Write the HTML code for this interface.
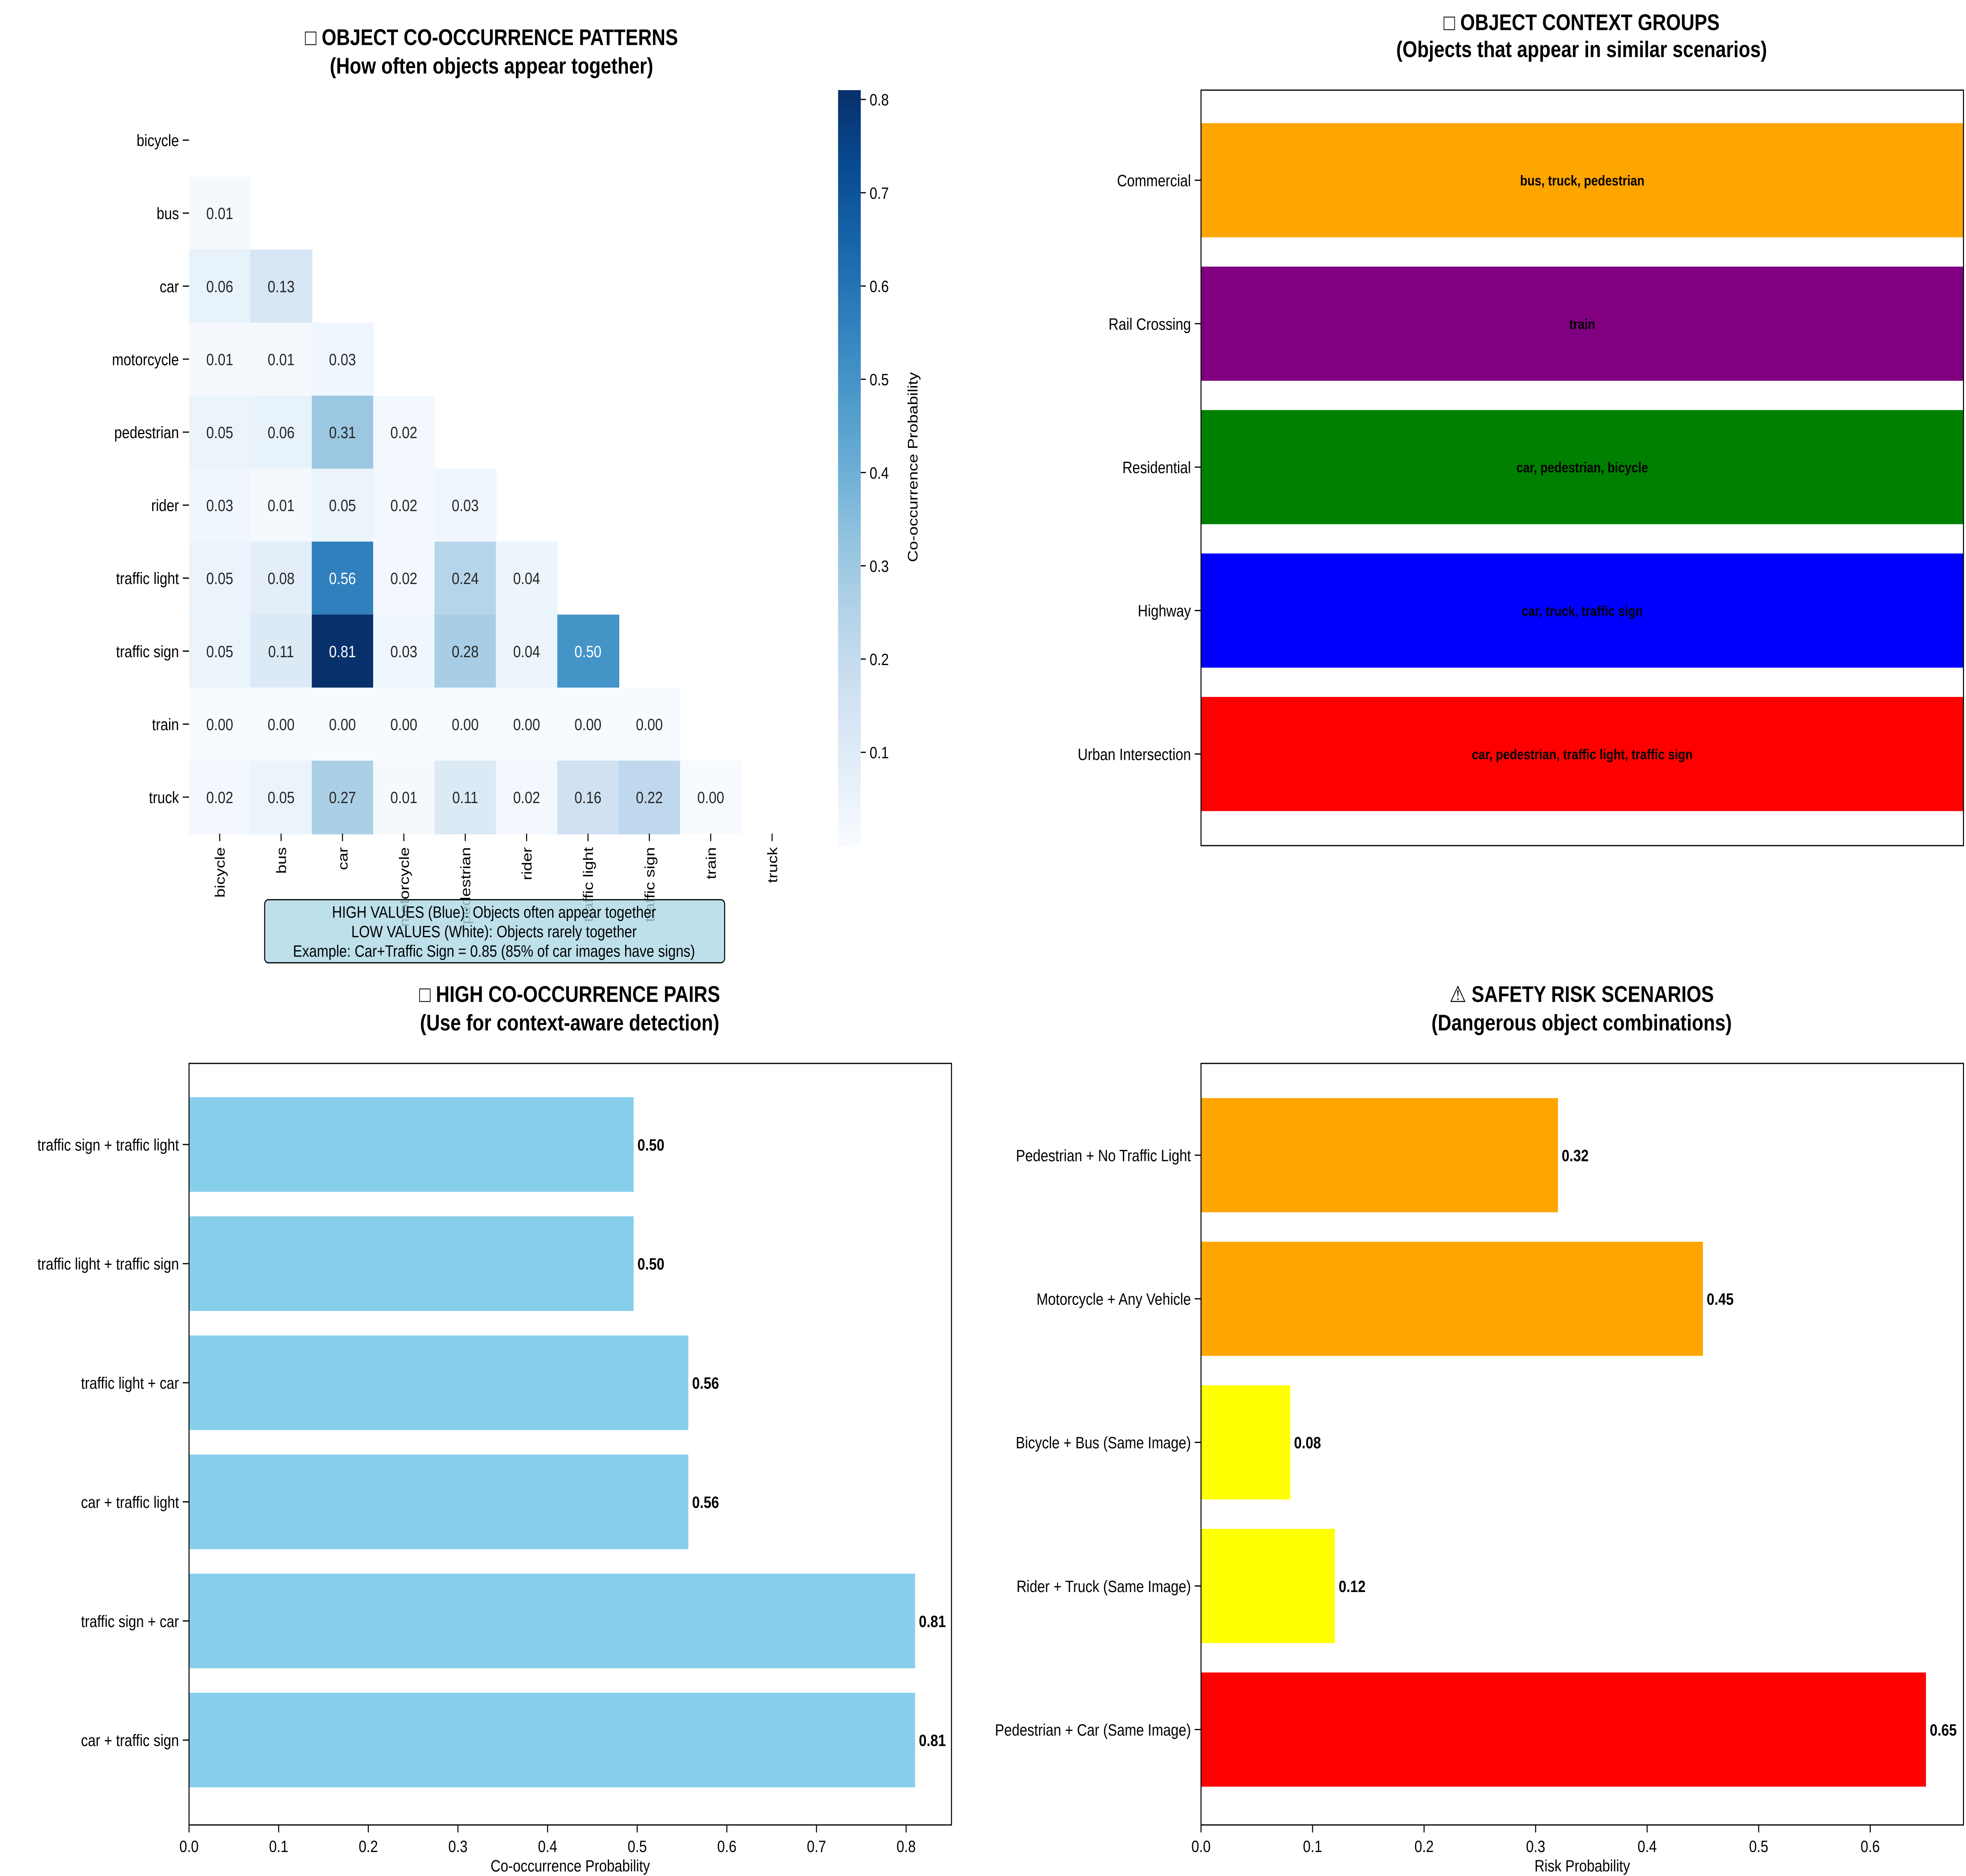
<!DOCTYPE html>
<html><head><meta charset="utf-8">
<style>
html,body{margin:0;padding:0;background:#fff;width:100%;height:100%;overflow:hidden;}
svg{display:block;width:100vw;height:100vh;font-family:"Liberation Sans","DejaVu Sans",sans-serif;}
</style></head>
<body>
<svg id="fig" viewBox="0 0 1560 1249" preserveAspectRatio="none" xmlns="http://www.w3.org/2000/svg">
<rect width="1560" height="1249" fill="#fff"/>
<g id="hm"></g>
<g id="ctx"></g>
<g id="pairs"></g>
<g id="risk"></g>
</svg>
<script>
const objects = ["bicycle","bus","car","motorcycle","pedestrian","rider","traffic light","traffic sign","train","truck"];
const heatRows = [
 [],
 [0.01],
 [0.06,0.13],
 [0.01,0.01,0.03],
 [0.05,0.06,0.31,0.02],
 [0.03,0.01,0.05,0.02,0.03],
 [0.05,0.08,0.56,0.02,0.24,0.04],
 [0.05,0.11,0.81,0.03,0.28,0.04,0.50],
 [0.00,0.00,0.00,0.00,0.00,0.00,0.00,0.00],
 [0.02,0.05,0.27,0.01,0.11,0.02,0.16,0.22,0.00]
];
const cbarTicks = [0.1,0.2,0.3,0.4,0.5,0.6,0.7,0.8];
const ctxGroups = ["Urban Intersection","Highway","Residential","Rail Crossing","Commercial"];
const ctxMembers = ["car, pedestrian, traffic light, traffic sign","car, truck, traffic sign","car, pedestrian, bicycle","train","bus, truck, pedestrian"];
const ctxColors = ["#ff0000","#0000ff","#008000","#800080","#ffa500"];
const pairLabels = ["car + traffic sign","traffic sign + car","car + traffic light","traffic light + car","traffic light + traffic sign","traffic sign + traffic light"];
const pairValues = [0.81,0.81,0.557,0.557,0.496,0.496];
const pairTicks = [0,0.1,0.2,0.3,0.4,0.5,0.6,0.7,0.8];
const riskLabels = ["Pedestrian + Car (Same Image)","Rider + Truck (Same Image)","Bicycle + Bus (Same Image)","Motorcycle + Any Vehicle","Pedestrian + No Traffic Light"];
const riskValues = [0.65,0.12,0.08,0.45,0.32];
const riskColors = ["#ff0000","#ffff00","#ffff00","#ffa500","#ffa500"];
const riskTicks = [0,0.1,0.2,0.3,0.4,0.5,0.6];

const NS="http://www.w3.org/2000/svg";
function mk(parent,tag,attrs,text){const e=document.createElementNS(NS,tag);for(const k in attrs)e.setAttribute(k,attrs[k]);if(text!==undefined)e.textContent=text;parent.appendChild(e);return e;}

const blues=[[247,251,255],[222,235,247],[198,219,239],[158,202,225],[107,174,214],[66,146,198],[33,113,181],[8,81,156],[8,48,107]];
function bluesColor(t){t=Math.max(0,Math.min(1,t));const p=t*(blues.length-1);const i=Math.min(Math.floor(p),blues.length-2);const f=p-i;const c=blues[i].map((v,k)=>Math.round(v+(blues[i+1][k]-v)*f));return `rgb(${c[0]},${c[1]},${c[2]})`;}

// ---------- Heatmap ----------
const hm=document.getElementById('hm');
const vmin=0, vmax=0.81;
const hx0=150, hy0=69, cw=48.7, ch=48.6;
const colX=i=>hx0+i*cw, rowY=i=>hy0+i*ch;
let t;
t=mk(hm,'text',{x:390,y:30,'text-anchor':'middle','font-size':15,'font-weight':'bold'},'□ OBJECT CO-OCCURRENCE PATTERNS');


t=mk(hm,'text',{x:390,y:49,'text-anchor':'middle','font-size':15,'font-weight':'bold'},'(How often objects appear together)');


heatRows.forEach((row,r)=>{row.forEach((v,c)=>{
  const tt=(v-vmin)/(vmax-vmin);
  const rc=mk(hm,'rect',{x:colX(c),y:rowY(r),width:cw+0.5,height:ch+0.5,fill:bluesColor(tt)});
  
  
  const tx=mk(hm,'text',{x:colX(c)+cw/2,y:rowY(r)+ch/2+4,'text-anchor':'middle','font-size':11,fill:tt>0.55?'#fff':'#262626'},v.toFixed(2));
  
  
});});
objects.forEach((o,i)=>{
  const y=rowY(i)+ch/2;
  mk(hm,'line',{x1:hx0-5,x2:hx0,y1:y,y2:y,stroke:'#000','stroke-width':0.8});
  const a=mk(hm,'text',{x:hx0-8,y:y+4,'text-anchor':'end','font-size':11},o);
  
  
  const x=colX(i)+cw/2;
  mk(hm,'line',{x1:x,x2:x,y1:hy0+10*ch,y2:hy0+10*ch+5,stroke:'#000','stroke-width':0.8});
  const b=mk(hm,'text',{x:x+4,y:hy0+10*ch+9,'text-anchor':'end','font-size':11,transform:`rotate(-90 ${x+4} ${hy0+10*ch+9})`},o);
  
  
});
const cbx=665, cbw=18, cbTop=60, cbBot=563;
const cbY=v=>cbBot-(v-vmin)/(vmax-vmin)*(cbBot-cbTop);
const grad=mk(hm,'defs',{});
const lg=mk(grad,'linearGradient',{id:'cbg',x1:0,y1:1,x2:0,y2:0});
for(let k=0;k<=10;k++)mk(lg,'stop',{offset:k/10,'stop-color':bluesColor(k/10)});
const cb=mk(hm,'rect',{x:cbx,y:cbTop,width:cbw,height:cbBot-cbTop,fill:'url(#cbg)'});


cbarTicks.forEach(v=>{const y=cbY(v);mk(hm,'line',{x1:cbx+cbw,x2:cbx+cbw+4,y1:y,y2:y,stroke:'#000','stroke-width':0.8});
  const e=mk(hm,'text',{x:cbx+cbw+7,y:y+4,'font-size':11},v.toFixed(1));
  
  });
t=mk(hm,'text',{x:728,y:311,'text-anchor':'middle','font-size':11,transform:'rotate(-90 728 311)'},'Co-occurrence Probability');


const ann=mk(hm,'g',{});


mk(ann,'rect',{x:210,y:599,width:365,height:42,rx:3,fill:'#add8e6','fill-opacity':0.8,stroke:'#000','stroke-width':0.8});
mk(ann,'text',{x:392,y:611,'text-anchor':'middle','font-size':11},'HIGH VALUES (Blue): Objects often appear together');
mk(ann,'text',{x:392,y:624,'text-anchor':'middle','font-size':11},'LOW VALUES (White): Objects rarely together');
mk(ann,'text',{x:392,y:637,'text-anchor':'middle','font-size':11},'Example: Car+Traffic Sign = 0.85 (85% of car images have signs)');

// ---------- Context groups ----------
const cx=document.getElementById('ctx');
const ax0=953, ax1=1558, ay0=60, ay1=563;
t=mk(cx,'text',{x:1255,y:20,'text-anchor':'middle','font-size':15,'font-weight':'bold'},'□ OBJECT CONTEXT GROUPS');


t=mk(cx,'text',{x:1255,y:38,'text-anchor':'middle','font-size':15,'font-weight':'bold'},'(Objects that appear in similar scenarios)');


const ctxY=i=>502-i*95.5;
ctxGroups.forEach((g,i)=>{
  const y=ctxY(i);
  const b=mk(cx,'rect',{x:ax0,y:y-38,width:ax1-ax0,height:76,fill:ctxColors[i]});
  
  
  const m=mk(cx,'text',{x:(ax0+ax1)/2,y:y+3.5,'text-anchor':'middle','font-size':9.5,'font-weight':'bold'},ctxMembers[i]);
  
  
  mk(cx,'line',{x1:ax0-5,x2:ax0,y1:y,y2:y,stroke:'#000','stroke-width':0.8});
  const l=mk(cx,'text',{x:ax0-8,y:y+4,'text-anchor':'end','font-size':11},g);
  
  
});
mk(cx,'rect',{x:ax0,y:ay0,width:ax1-ax0,height:ay1-ay0,fill:'none',stroke:'#000','stroke-width':0.8});

function hbar(g,opts){
  const {x0,x1,y0,y1,scale,labels,values,colors,ticks,barH,yc,title1,title2,tcx,xlabel,namePrefix}=opts;
  const X=v=>x0+v*scale;
  let e=mk(g,'text',{x:tcx,y:667,'text-anchor':'middle','font-size':15,'font-weight':'bold'},title1);
  
  
  e=mk(g,'text',{x:tcx,y:686,'text-anchor':'middle','font-size':15,'font-weight':'bold'},title2);
  
  
  labels.forEach((lab,i)=>{
    const y=yc(i), v=values[i];
    const b=mk(g,'rect',{x:x0,y:y-barH/2,width:X(v)-x0,height:barH,fill:colors[i]});
    
    
    const vt=mk(g,'text',{x:X(v)+3,y:y+4,'font-size':11,'font-weight':'bold'},v.toFixed(2));
    
    
    mk(g,'line',{x1:x0-5,x2:x0,y1:y,y2:y,stroke:'#000','stroke-width':0.8});
    const l=mk(g,'text',{x:x0-8,y:y+4,'text-anchor':'end','font-size':11},lab);
    
    
  });
  ticks.forEach(tv=>{const x=X(tv);
    mk(g,'line',{x1:x,x2:x,y1:y1,y2:y1+5,stroke:'#000','stroke-width':0.8});
    const tk=mk(g,'text',{x:x,y:y1+18,'text-anchor':'middle','font-size':11},tv.toFixed(1));
    
    });
  e=mk(g,'text',{x:(x0+x1)/2,y:y1+31,'text-anchor':'middle','font-size':11},xlabel);
  
  
  mk(g,'rect',{x:x0,y:y0,width:x1-x0,height:y1-y0,fill:'none',stroke:'#000','stroke-width':0.8});
}
hbar(document.getElementById('pairs'),{x0:150,x1:755,y0:708,y1:1215,scale:711.25,labels:pairLabels,values:pairValues,
  colors:pairLabels.map(()=>'#87ceeb'),ticks:pairTicks,barH:63,yc:i=>1158.5-i*79.3,
  title1:'□ HIGH CO-OCCURRENCE PAIRS',title2:'(Use for context-aware detection)',tcx:452,xlabel:'Co-occurrence Probability',namePrefix:'pairs'});
hbar(document.getElementById('risk'),{x0:953,x1:1558,y0:708,y1:1215,scale:885,labels:riskLabels,values:riskValues,
  colors:riskColors,ticks:riskTicks,barH:76,yc:i=>1151.5-i*95.6,
  title1:'⚠ SAFETY RISK SCENARIOS',title2:'(Dangerous object combinations)',tcx:1255,xlabel:'Risk Probability',namePrefix:'risk'});
</script>
</body></html>
